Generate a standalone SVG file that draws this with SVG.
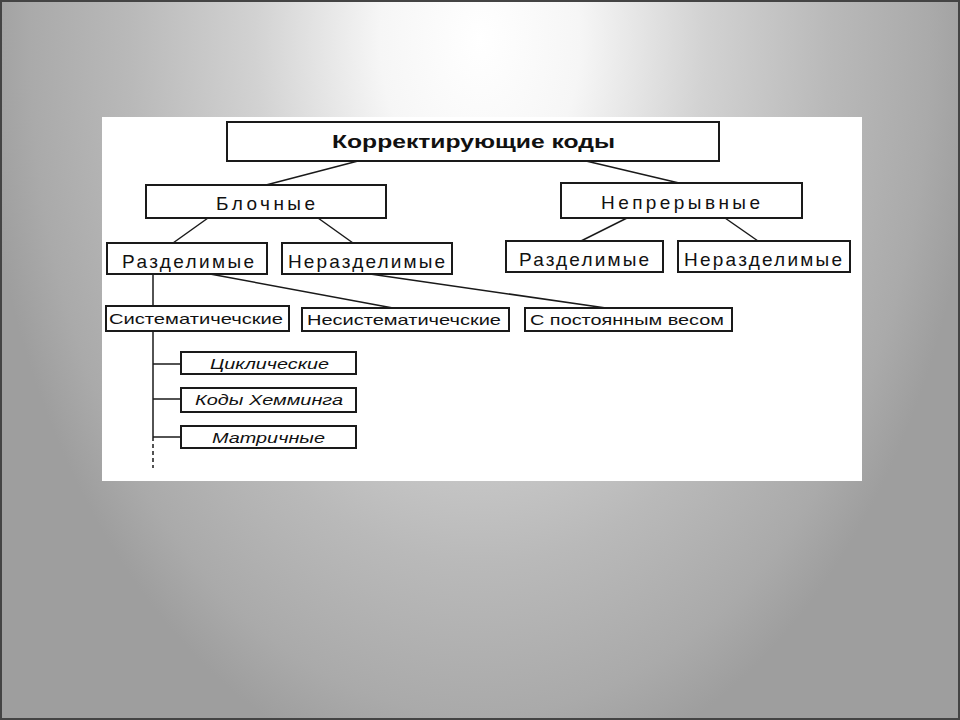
<svg xmlns="http://www.w3.org/2000/svg" width="960" height="720" viewBox="0 0 960 720">
<defs>
<radialGradient id="bg" gradientUnits="userSpaceOnUse" cx="480" cy="40" r="500" gradientTransform="translate(480 40) scale(1 1.5) translate(-480 -40)">
<stop offset="0" stop-color="#ffffff"/>
<stop offset="0.2" stop-color="#f6f6f6"/>
<stop offset="0.45" stop-color="#d2d2d2"/>
<stop offset="0.7" stop-color="#b9b9b9"/>
<stop offset="0.9" stop-color="#aaaaaa"/>
<stop offset="1" stop-color="#9e9e9e"/>
</radialGradient>
<style>
.box{fill:#fff;stroke:#1a1a1a;stroke-width:2}
.t{font-family:"Liberation Sans",Arial,sans-serif;fill:#111;text-anchor:start}
.l{font-size:19px}
.m{font-size:15px}
.s{font-size:14px;font-style:italic}
.b{font-size:18px;font-weight:bold}
.c{stroke:#1a1a1a;stroke-width:1.5;fill:none}
</style>
</defs>
<rect x="0" y="0" width="960" height="720" fill="url(#bg)"/>
<rect x="1" y="1" width="958" height="718" fill="none" stroke="#444" stroke-width="2"/>
<rect x="102" y="117" width="760" height="364" fill="#fff"/>

<g id="connectors">
<line class="c" x1="358" y1="161" x2="266" y2="185"/>
<line class="c" x1="586" y1="161" x2="679" y2="183"/>
<line class="c" x1="208" y1="218" x2="173" y2="243"/>
<line class="c" x1="318" y1="218" x2="353" y2="243"/>
<line class="c" x1="627" y1="218" x2="581" y2="241"/>
<line class="c" x1="725" y1="218" x2="758" y2="241"/>
<line class="c" x1="153" y1="274" x2="153" y2="306"/>
<line class="c" x1="210" y1="274" x2="393" y2="308"/>
<line class="c" x1="370" y1="274" x2="606" y2="308"/>
<line class="c" x1="153" y1="331" x2="153" y2="437"/>
<line class="c" x1="153" y1="437" x2="153" y2="468" stroke-dasharray="4 3"/>
<line class="c" x1="153" y1="364" x2="181" y2="364"/>
<line class="c" x1="153" y1="399" x2="181" y2="399"/>
<line class="c" x1="153" y1="437" x2="181" y2="437"/>
</g>

<g id="root">
<rect class="box" x="227" y="122" width="492" height="39"/>
<text class="t b" x="332" y="148" textLength="283" lengthAdjust="spacingAndGlyphs">Корректирующие коды</text>
</g>
<g id="block">
<rect class="box" x="146" y="185" width="240" height="33"/>
<text class="t l" x="216" y="210" textLength="99" lengthAdjust="spacing">Блочные</text>
</g>
<g id="cont">
<rect class="box" x="561" y="183" width="241" height="35"/>
<text class="t l" x="601" y="209" textLength="159" lengthAdjust="spacing">Непрерывные</text>
</g>
<g id="block-sep">
<rect class="box" x="107" y="243" width="160" height="31"/>
<text class="t l" x="122" y="268" textLength="132" lengthAdjust="spacing">Разделимые</text>
</g>
<g id="block-nonsep">
<rect class="box" x="282" y="243" width="170" height="31"/>
<text class="t l" x="288" y="268" textLength="157" lengthAdjust="spacing">Неразделимые</text>
</g>
<g id="cont-sep">
<rect class="box" x="506" y="241" width="157" height="31"/>
<text class="t l" x="519" y="266" textLength="130" lengthAdjust="spacing">Разделимые</text>
</g>
<g id="cont-nonsep">
<rect class="box" x="678" y="241" width="172" height="31"/>
<text class="t l" x="684" y="266" textLength="158" lengthAdjust="spacing">Неразделимые</text>
</g>
<g id="systematic">
<rect class="box" x="106" y="306" width="183" height="25"/>
<text class="t m" x="109" y="324" textLength="174" lengthAdjust="spacingAndGlyphs">Систематичечские</text>
</g>
<g id="nonsystematic">
<rect class="box" x="302" y="308" width="207" height="23"/>
<text class="t m" x="307" y="325" textLength="194" lengthAdjust="spacingAndGlyphs">Несистематичечские</text>
</g>
<g id="constweight">
<rect class="box" x="525" y="308" width="207" height="23"/>
<text class="t m" x="530" y="325" textLength="194" lengthAdjust="spacingAndGlyphs">С постоянным весом</text>
</g>
<g id="cyclic">
<rect class="box" x="181" y="352" width="175" height="22"/>
<text class="t s" x="210" y="369" textLength="119" lengthAdjust="spacingAndGlyphs">Циклические</text>
</g>
<g id="hamming">
<rect class="box" x="181" y="388" width="175" height="24"/>
<text class="t s" x="195" y="405" textLength="148" lengthAdjust="spacingAndGlyphs">Коды Хемминга</text>
</g>
<g id="matrix">
<rect class="box" x="181" y="426" width="175" height="22"/>
<text class="t s" x="212" y="443" textLength="113" lengthAdjust="spacingAndGlyphs">Матричные</text>
</g>
</svg>
